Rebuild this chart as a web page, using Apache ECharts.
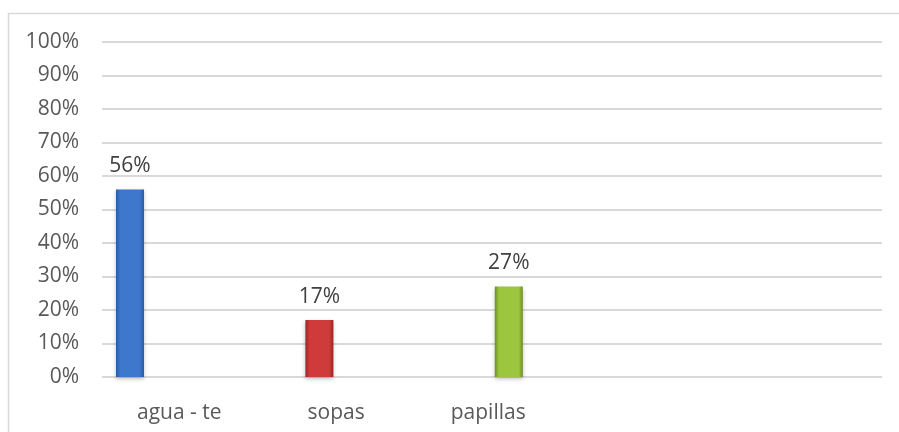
<!DOCTYPE html>
<html>
<head>
<meta charset="utf-8">
<script src="https://cdn.jsdelivr.net/npm/echarts@6/dist/echarts.min.js"></script>
<style>
html,body{margin:0;padding:0;background:#fff;}
#chart{width:899px;height:432px;}
</style>
</head>
<body>
<div id="chart"></div>
<script>
// Data
var categories = ['agua - te', 'sopas', 'papillas'];
var aguaTe = [56, '-', '-'];
var sopas = ['-', 17, '-'];
var papillas = ['-', '-', 27];
var yTicks = [0, 10, 20, 30, 40, 50, 60, 70, 80, 90, 100];

var FONT = 'Open Sans';

function grad(edge, mid) {
  return new echarts.graphic.LinearGradient(0, 0, 1, 0, [
    {offset: 0, color: edge},
    {offset: 0.15, color: mid},
    {offset: 0.85, color: mid},
    {offset: 1, color: edge}
  ]);
}

function barSeries(name, data, edge, mid) {
  return {
    name: name,
    type: 'bar',
    xAxisIndex: 1,
    yAxisIndex: 1,
    data: data,
    barWidth: 28,
    barGap: '-100%',
    itemStyle: {
      color: grad(edge, mid),
      shadowColor: 'rgba(0,0,0,0.25)',
      shadowBlur: 4,
      shadowOffsetY: 2
    },
    label: {
      show: true,
      position: 'top',
      distance: 13,
      formatter: '{c}%',
      fontFamily: FONT,
      fontSize: 21,
      color: '#404040'
    }
  };
}

var chart = echarts.init(document.getElementById('chart'), null, {renderer: 'canvas'});
chart.setOption({
  animation: false,
  backgroundColor: '#fff',
  graphic: [{
    type: 'rect',
    shape: {x: 8.5, y: 13.5, width: 900, height: 430},
    style: {fill: 'none', stroke: '#d9d9d9', lineWidth: 1.5},
    silent: true,
    z: -10
  }],
  grid: [
    {left: 102, right: 17, top: 42, bottom: 55},
    {left: 35.3, width: 568.2, top: 42, bottom: 55}
  ],
  xAxis: [
    {gridIndex: 0, type: 'category', data: categories, show: false},
    {gridIndex: 1, type: 'category', data: categories, show: false}
  ],
  yAxis: [
    {
      gridIndex: 0, type: 'value', min: yTicks[0], max: yTicks[yTicks.length - 1], interval: 10,
      axisLine: {show: false}, axisTick: {show: false},
      axisLabel: {formatter: '{value}%', fontFamily: FONT, fontSize: 21, color: '#595959', margin: 23},
      splitLine: {show: true, lineStyle: {color: '#d9d9d9', width: 2}}
    },
    {
      gridIndex: 1, type: 'value', min: 0, max: 100, interval: 10, show: false,
      splitLine: {show: false}
    }
  ],
  legend: {
    data: categories,
    bottom: 3,
    left: 127,
    icon: 'rect',
    itemWidth: 0,
    itemHeight: 0,
    itemGap: 81,
    textStyle: {fontFamily: FONT, fontSize: 21, color: '#595959'},
    selectedMode: false
  },
  series: [
    barSeries(categories[0], aguaTe, '#2a5aa0', '#3d78cc'),
    barSeries(categories[1], sopas, '#9c2626', '#cf3a3a'),
    barSeries(categories[2], papillas, '#6d8f22', '#9cc63d')
  ]
});
</script>
</body>
</html>
